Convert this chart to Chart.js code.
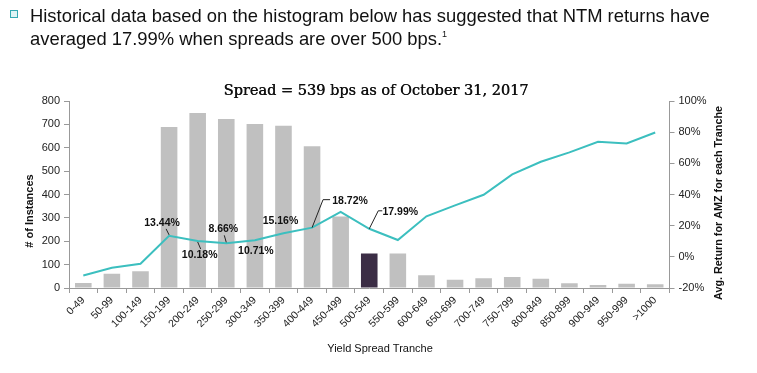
<!DOCTYPE html>
<html>
<head>
<meta charset="utf-8">
<script src="https://cdn.jsdelivr.net/npm/chart.js@4.4.1/dist/chart.umd.min.js"></script>
<style>
  html, body { margin: 0; padding: 0; background: #fff; }
  #wrap { position: relative; width: 757px; height: 373px; }
  #head { position: absolute; left: 30px; top: 4px; font-family: "Liberation Sans", Arial, sans-serif;
          font-size: 18.4px; line-height: 23px; color: #111; white-space: nowrap; }
  #head sup { font-size: 9px; vertical-align: 8px; line-height: 0; }
  #bullet { position: absolute; left: 10px; top: 10px; width: 6px; height: 6px;
            border: 1px solid #35a9b3; background: #dff4f5; }
  canvas { position: absolute; left: 0; top: 0; }
</style>
</head>
<body>
<div id="wrap">
  <canvas id="chart" width="757" height="373"></canvas>
  <div id="bullet"></div>
  <div id="head">Historical data based on the histogram below has suggested that NTM returns have<br>averaged 17.99% when spreads are over 500 bps.<sup>1</sup></div>
</div>
<script>
// values
const tranches = ['0-49', '50-99', '100-149', '150-199', '200-249', '250-299', '300-349', '350-399',
    '400-449', '450-499', '500-549', '550-599', '600-649', '650-699', '700-749', '750-799',
    '800-849', '850-899', '900-949', '950-999', '>1000'];
const instances = [21, 61, 72, 689, 749, 723, 702, 694, 606, 306, 148, 148, 55, 35, 42, 47, 40, 20, 13, 18, 16];
const avgReturn = [-12, -7, -4.4, 13.44, 10.18, 8.66, 10.71, 15.16, 18.72, 28.9, 17.99, 10.8,
    26, 33, 39.8, 52.9, 61, 67, 73.8, 72.7, 79.8];
const currentTranche = '500-549';
const chartTitle = 'Spread = 539 bps as of October 31, 2017';

// callout placement, px relative to the point
const callouts = [
    { i: 3, dx: -7, dy: -13, leader: [[-3, -7], [0, -1]] },
    { i: 4, dx: 2, dy: 14, leader: [[0, 1], [3, 8]] },
    { i: 5, dx: -3, dy: -14, leader: [[-2, -8], [0, -1]] },
    { i: 6, dx: 1, dy: 11 },
    { i: 7, dx: -3, dy: -12 },
    { i: 8, dx: 38, dy: -27, leader: [[0, 0], [11, -28], [18, -28]] },
    { i: 10, dx: 31, dy: -17, leader: [[0, 0], [9, -18], [13, -18]] },
];

const gray = '#999';
const barColors = tranches.map(t => t === currentTranche ? '#3b2d45' : '#c0c0c0');

const extras = {
    id: 'extras',
    afterDraw(chart) {
        const ctx = chart.ctx;
        ctx.save();
        // title
        ctx.fillStyle = '#111';
        ctx.font = '14.5px "DejaVu Serif", serif';
        ctx.textAlign = 'center';
        ctx.textBaseline = 'middle';
        ctx.fillText(chartTitle, 376, 91);
        ctx.fillText(chartTitle, 376.4, 91);

        // axis titles
        ctx.font = 'bold 11px "Liberation Sans", Arial, sans-serif';
        ctx.save();
        ctx.translate(30, 211);
        ctx.rotate(-Math.PI / 2);
        ctx.fillText('# of Instances', 0, 0);
        ctx.restore();
        ctx.save();
        ctx.font = 'bold 10.8px "Liberation Sans", Arial, sans-serif';
        ctx.translate(719, 203);
        ctx.rotate(-Math.PI / 2);
        ctx.fillText('Avg. Return for AMZ for each Tranche', 0, 0);
        ctx.restore();
        ctx.font = '11px "Liberation Sans", Arial, sans-serif';
        ctx.fillText('Yield Spread Tranche', 380, 349);

        // callouts
        const meta = chart.getDatasetMeta(1);
        ctx.font = 'bold 10.5px "Liberation Sans", Arial, sans-serif';
        ctx.strokeStyle = '#222';
        ctx.lineWidth = 1;
        callouts.forEach(c => {
            const p = meta.data[c.i];
            if (c.leader) {
                ctx.beginPath();
                c.leader.forEach(([lx, ly], k) => {
                    if (k === 0) ctx.moveTo(p.x + lx, p.y + ly);
                    else ctx.lineTo(p.x + lx, p.y + ly);
                });
                ctx.stroke();
            }
            ctx.fillText(avgReturn[c.i].toFixed(2) + '%', p.x + c.dx, p.y + c.dy);
        });
        ctx.restore();
    }
};

const tickFont = { family: '"Liberation Sans", Arial, sans-serif', size: 11 };

new Chart(document.getElementById('chart'), {
    data: {
        labels: tranches,
        datasets: [
            {
                type: 'bar',
                data: instances,
                backgroundColor: barColors,
                categoryPercentage: 1,
                barPercentage: 0.58,
                yAxisID: 'y',
                order: 2
            },
            {
                type: 'line',
                data: avgReturn,
                borderColor: '#3cbfbf',
                borderWidth: 2,
                pointRadius: 0,
                tension: 0,
                yAxisID: 'y1',
                order: 1
            }
        ]
    },
    options: {
        responsive: false,
        animation: false,
        layout: { padding: { top: 101, left: 0, right: 0, bottom: 0 } },
        plugins: { legend: { display: false }, tooltip: { enabled: false }, title: { display: false } },
        scales: {
            x: {
                grid: { display: true, drawOnChartArea: false, offset: true, tickLength: 5, color: gray },
                border: { color: gray },
                ticks: { color: '#222', font: { family: tickFont.family, size: 10.5 }, minRotation: 45, maxRotation: 45, padding: 1, autoSkip: false },
                afterFit: s => { s.height = 85; }
            },
            y: {
                position: 'left',
                min: 0, max: 800,
                ticks: { stepSize: 100, color: '#222', font: tickFont, padding: 4 },
                grid: { drawOnChartArea: false, tickLength: 5, color: gray },
                border: { color: gray },
                afterFit: s => { s.width = 69; }
            },
            y1: {
                position: 'right',
                min: -20, max: 100,
                ticks: { stepSize: 20, color: '#222', font: tickFont, padding: 4, callback: v => v + '%' },
                grid: { drawOnChartArea: false, tickLength: 5, color: gray },
                border: { color: gray },
                afterFit: s => { s.width = 87.5; }
            }
        }
    },
    plugins: [extras]
});
</script>
</body>
</html>
